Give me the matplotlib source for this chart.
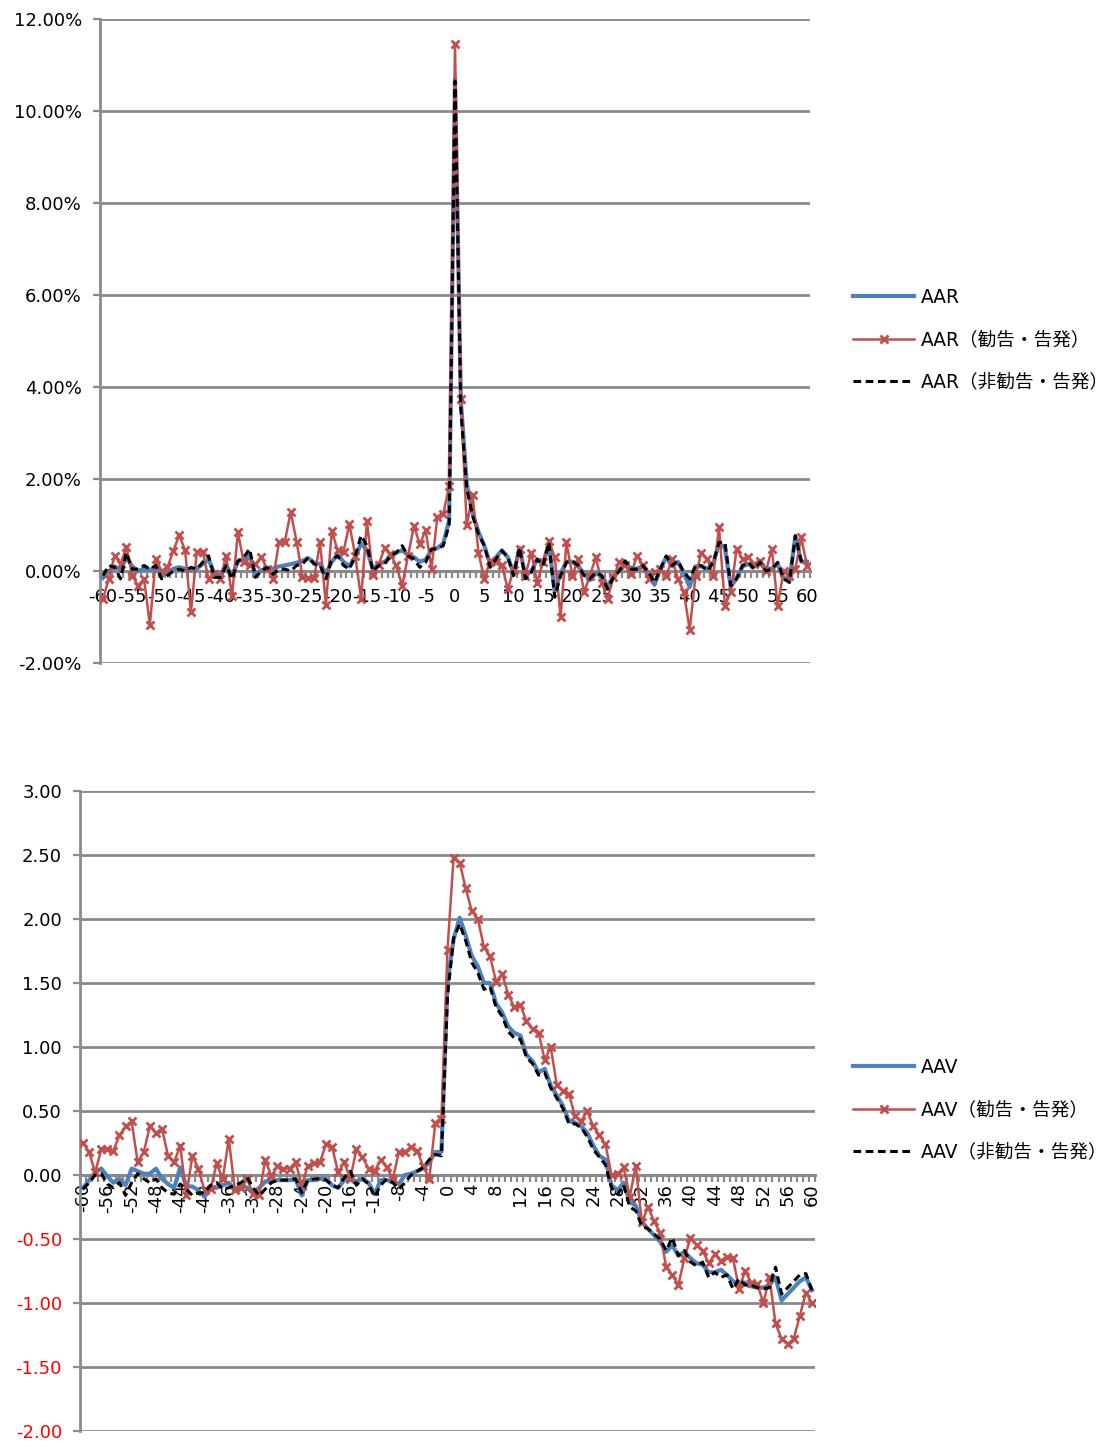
import matplotlib
matplotlib.use("Agg")
import matplotlib.pyplot as plt
import numpy as np
from matplotlib.ticker import FuncFormatter

plt.rcParams['font.family'] = ['DejaVu Sans', 'Noto Sans CJK JP']
plt.rcParams['axes.unicode_minus'] = False

# event days
days = list(range(-60, 61))

# AAR (%), days -60..60
aar_all = [
    -0.15, 0.00, 0.10, 0.02, 0.30, 0.10, 0.00, 0.05, 0.02, 0.10,
    -0.10, -0.05, 0.05, 0.08, 0.05, 0.02, 0.05, 0.15, 0.25, -0.05,
    -0.10, 0.12, -0.10, 0.20, 0.25, 0.35, -0.10, 0.02, 0.05, 0.05,
    0.10, 0.12, 0.15, 0.18, 0.22, 0.28, 0.18, 0.15, -0.05, 0.20,
    0.35, 0.20, 0.10, 0.30, 0.60, 0.45, 0.05, 0.15, 0.20, 0.30,
    0.40, 0.45, 0.35, 0.30, 0.20, 0.25, 0.45, 0.50, 0.60, 1.10,
    10.70, 3.70, 1.90, 1.25, 0.85, 0.55, 0.15, 0.30, 0.45, 0.30,
    -0.05, 0.50, -0.10, 0.00, 0.25, 0.15, 0.60, -0.45, -0.05, 0.20,
    0.20, 0.10, -0.05, -0.20, -0.05, -0.10, -0.35, -0.10, 0.00, 0.20,
    0.05, 0.05, 0.10, -0.05, -0.30, 0.05, 0.30, 0.10, 0.20, -0.05,
    -0.35, 0.10, 0.10, 0.05, 0.15, 0.60, 0.50, -0.35, -0.15, 0.10,
    0.15, 0.10, 0.15, 0.05, 0.05, 0.15, -0.15, -0.20, 0.75, 0.20, 0.20,
]
aar_adv = [
    -0.61, -0.17, 0.33, 0.15, 0.52, -0.10, -0.32, -0.17, -1.17, 0.26,
    0.00, 0.08, 0.44, 0.78, 0.45, -0.90, 0.42, 0.42, -0.17, -0.07,
    -0.17, 0.33, -0.54, 0.84, 0.19, 0.12, 0.15, 0.30, 0.04, -0.17,
    0.62, 0.64, 1.28, 0.64, -0.12, -0.15, -0.15, 0.62, -0.73, 0.87,
    0.45, 0.42, 1.02, 0.33, -0.60, 1.08, -0.08, 0.14, 0.50, 0.36,
    0.12, -0.32, 0.33, 0.98, 0.58, 0.89, 0.05, 1.18, 1.23, 1.85,
    11.45, 3.75, 1.00, 1.65, 0.40, -0.18, 0.22, 0.19, 0.12, -0.39,
    0.02, 0.48, -0.10, 0.40, -0.25, 0.19, 0.66, 0.30, -0.99, 0.62,
    -0.10, 0.26, -0.46, -0.10, 0.30, -0.25, -0.60, -0.14, 0.19, 0.12,
    -0.07, 0.33, 0.12, -0.17, -0.03, 0.04, -0.10, 0.26, -0.17, -0.46,
    -1.28, -0.10, 0.40, 0.26, -0.10, 0.95, -0.75, -0.46, 0.48, 0.26,
    0.30, 0.15, 0.22, 0.00, 0.48, -0.75, 0.00, -0.10, 0.04, 0.73, 0.10,
]
aar_non = [
    -0.10, 0.12, 0.08, -0.17, 0.40, 0.04, 0.04, 0.12, 0.04, 0.12,
    -0.17, -0.10, 0.00, 0.04, 0.00, 0.08, 0.04, 0.19, 0.33, -0.14,
    -0.14, 0.12, -0.17, 0.22, 0.30, 0.48, -0.14, 0.00, 0.08, -0.07,
    0.04, 0.04, 0.00, 0.12, 0.15, 0.30, 0.15, 0.12, -0.17, 0.26,
    0.33, 0.12, 0.04, 0.33, 0.77, 0.55, 0.00, 0.12, 0.15, 0.33,
    0.40, 0.55, 0.33, 0.26, 0.08, 0.19, 0.48, 0.48, 0.55, 1.00,
    10.65, 3.50, 1.80, 1.20, 0.80, 0.55, 0.08, 0.26, 0.44, 0.30,
    -0.10, 0.51, -0.17, -0.03, 0.26, 0.12, 0.62, -0.57, -0.10, 0.19,
    0.22, 0.12, -0.10, -0.17, -0.03, -0.10, -0.39, -0.14, 0.00, 0.22,
    0.04, 0.04, 0.12, -0.03, -0.25, 0.04, 0.33, 0.12, 0.22, -0.03,
    -0.17, 0.12, 0.12, 0.00, 0.19, 0.62, 0.62, -0.32, -0.17, 0.12,
    0.19, 0.04, 0.19, 0.00, 0.04, 0.19, -0.17, -0.25, 0.77, 0.22, 0.26,
]

# AAV, days -60..60
aav_all = [
    -0.10, -0.04, 0.02, 0.05, -0.01, -0.06, -0.03, -0.08, 0.05, 0.03,
    0.01, 0.01, 0.05, -0.03, -0.07, -0.10, 0.06, -0.09, -0.09, -0.12,
    -0.17, -0.10, -0.10, -0.08, -0.06, -0.12, -0.08, -0.10, -0.14, -0.10,
    -0.05, -0.05, -0.04, -0.04, -0.04, -0.03, -0.16, -0.04, -0.04, -0.03,
    -0.03, -0.08, -0.10, -0.04, -0.03, -0.05, -0.03, -0.06, -0.15, -0.04,
    -0.04, -0.05, -0.07, 0.00, 0.01, 0.03, 0.05, 0.10, 0.18, 0.18,
    1.50, 1.84, 2.01, 1.87, 1.71, 1.63, 1.50, 1.50, 1.34, 1.27,
    1.16, 1.11, 1.09, 0.94, 0.89, 0.80, 0.83, 0.70, 0.62, 0.54,
    0.42, 0.41, 0.38, 0.33, 0.23, 0.15, 0.12, -0.08, -0.12, -0.06,
    -0.21, -0.24, -0.37, -0.42, -0.47, -0.52, -0.60, -0.55, -0.63, -0.60,
    -0.65, -0.69, -0.70, -0.76, -0.76, -0.74, -0.78, -0.83, -0.85, -0.84,
    -0.87, -0.88, -0.88, -0.86, -0.80, -0.98, -0.93, -0.88, -0.83, -0.80, -0.90,
]
aav_adv = [
    0.25, 0.18, 0.02, 0.20, 0.20, 0.19, 0.31, 0.38, 0.42, 0.10,
    0.18, 0.38, 0.33, 0.36, 0.15, 0.10, 0.23, -0.16, 0.15, 0.05,
    -0.12, -0.11, 0.09, -0.03, 0.28, -0.12, -0.10, -0.03, -0.15, -0.16,
    0.12, -0.01, 0.07, 0.05, 0.05, 0.10, -0.08, 0.07, 0.09, 0.10,
    0.24, 0.22, 0.02, 0.10, -0.03, 0.20, 0.14, 0.05, 0.03, 0.12,
    0.06, -0.03, 0.18, 0.18, 0.22, 0.19, 0.07, -0.03, 0.41, 0.44,
    1.76, 2.48, 2.44, 2.24, 2.06, 2.00, 1.78, 1.71, 1.51, 1.57,
    1.41, 1.31, 1.33, 1.20, 1.14, 1.11, 0.90, 1.00, 0.70, 0.66,
    0.63, 0.46, 0.42, 0.50, 0.38, 0.31, 0.24, 0.00, 0.01, 0.06,
    -0.17, 0.07, -0.37, -0.25, -0.36, -0.45, -0.72, -0.78, -0.86, -0.65,
    -0.49, -0.55, -0.59, -0.69, -0.62, -0.67, -0.64, -0.65, -0.89, -0.75,
    -0.84, -0.85, -1.00, -0.80, -1.16, -1.28, -1.32, -1.28, -1.10, -0.92, -1.00,
]
aav_non = [
    -0.11, -0.06, 0.00, 0.01, -0.07, -0.10, -0.06, -0.16, -0.06, 0.01,
    -0.03, -0.06, -0.03, -0.10, -0.14, -0.15, -0.07, -0.11, -0.16, -0.14,
    -0.14, -0.08, -0.06, -0.11, -0.10, -0.08, -0.06, -0.02, -0.10, -0.16,
    -0.11, -0.06, -0.04, -0.04, -0.04, -0.03, -0.14, -0.04, -0.03, -0.03,
    -0.04, -0.08, -0.10, -0.02, 0.03, -0.08, -0.03, -0.07, -0.17, -0.08,
    -0.03, -0.06, -0.11, -0.06, 0.00, 0.03, 0.06, 0.12, 0.16, 0.15,
    1.40, 1.85, 1.96, 1.83, 1.66, 1.58, 1.45, 1.47, 1.31, 1.24,
    1.12, 1.07, 1.06, 0.92, 0.87, 0.78, 0.80, 0.68, 0.60, 0.52,
    0.40, 0.40, 0.37, 0.30, 0.20, 0.14, 0.08, -0.10, -0.15, -0.08,
    -0.25, -0.28, -0.40, -0.42, -0.46, -0.50, -0.59, -0.49, -0.63, -0.59,
    -0.68, -0.71, -0.68, -0.80, -0.76, -0.80, -0.78, -0.89, -0.81, -0.86,
    -0.86, -0.88, -0.89, -0.88, -0.72, -0.93, -0.88, -0.83, -0.78, -0.77, -0.90,
]

aar_names = ['AAR', 'AAR（勧告・告発）', 'AAR（非勧告・告発）']
aav_names = ['AAV', 'AAV（勧告・告発）', 'AAV（非勧告・告発）']

BLUE = '#4F81BD'
RED = '#C0504D'
GRID = '#8A8A8A'
FS = 13

fig = plt.figure(figsize=(11.16, 14.42), dpi=100)
ax1 = fig.add_axes([100 / 1116, 1 - 663 / 1442, 710 / 1116, 644 / 1442])
ax2 = fig.add_axes([80 / 1116, 1 - 1431 / 1442, 735 / 1116, 640 / 1442])


def draw(ax, s_all, s_adv, s_non, names):
    ax.plot(days, s_all, color=BLUE, lw=3.0, label=names[0], zorder=3,
            solid_joinstyle='round')
    ax.plot(days, s_adv, color=RED, lw=1.8, marker='x', ms=5.5, mew=2.0,
            label=names[1], zorder=4)
    ax.plot(days, s_non, color='black', lw=2.2, ls=(0, (2.5, 1.5)),
            label=names[2], zorder=5)


def style(ax, step, rot, pad):
    for side in ['top', 'right']:
        ax.spines[side].set_visible(False)
    ax.spines['left'].set_color(GRID)
    ax.spines['left'].set_linewidth(2)
    ax.spines['bottom'].set_position(('data', 0))
    ax.spines['bottom'].set_color(GRID)
    ax.spines['bottom'].set_linewidth(2.2)
    ax.set_xlim(-60.5, 60.5)
    ax.yaxis.grid(True, color=GRID, lw=2.0)
    ax.set_axisbelow(True)
    # tick comb between categories, labels on the categories
    ax.set_xticks(np.arange(-60.5, 61, 1))
    ax.set_xticklabels([])
    ax.tick_params(axis='x', which='major', length=5, width=1.6, color=GRID,
                   direction='out')
    lab = [d for d in days if d % step == 0]
    ax.set_xticks(lab, minor=True)
    ax.set_xticklabels([str(d) for d in lab], minor=True, rotation=rot,
                       fontsize=FS)
    ax.tick_params(axis='x', which='minor', length=0, pad=pad)
    ax.tick_params(axis='y', length=5, width=1.6, color=GRID, pad=8,
                   labelsize=FS)


draw(ax1, aar_all, aar_adv, aar_non, aar_names)
style(ax1, 5, 0, 12)
ax1.set_ylim(-2, 12)
ax1.set_yticks(np.arange(-2, 12.1, 2))
ax1.yaxis.set_major_formatter(FuncFormatter(lambda v, p: '%.2f%%' % v))

draw(ax2, aav_all, aav_adv, aav_non, aav_names)
style(ax2, 4, 90, 6)
ax2.set_ylim(-2, 3)
ax2.set_yticks(np.arange(-2, 3.01, 0.5))
ax2.yaxis.set_major_formatter(FuncFormatter(lambda v, p: '%.2f' % v))
for t in ax2.get_yticklabels():
    if t.get_position()[1] < -0.01:
        t.set_color('#FF0000')

for ax, top in [(ax1, 288), (ax2, 1058)]:
    h, l = ax.get_legend_handles_labels()
    fig.legend(h, l, loc='upper left', bbox_to_anchor=(853 / 1116, 1 - top / 1442),
               frameon=False, fontsize=13.4, handlelength=3.3, handletextpad=0.35,
               labelspacing=1.25, borderpad=0, borderaxespad=0)

fig.savefig('out.png', dpi=100)
